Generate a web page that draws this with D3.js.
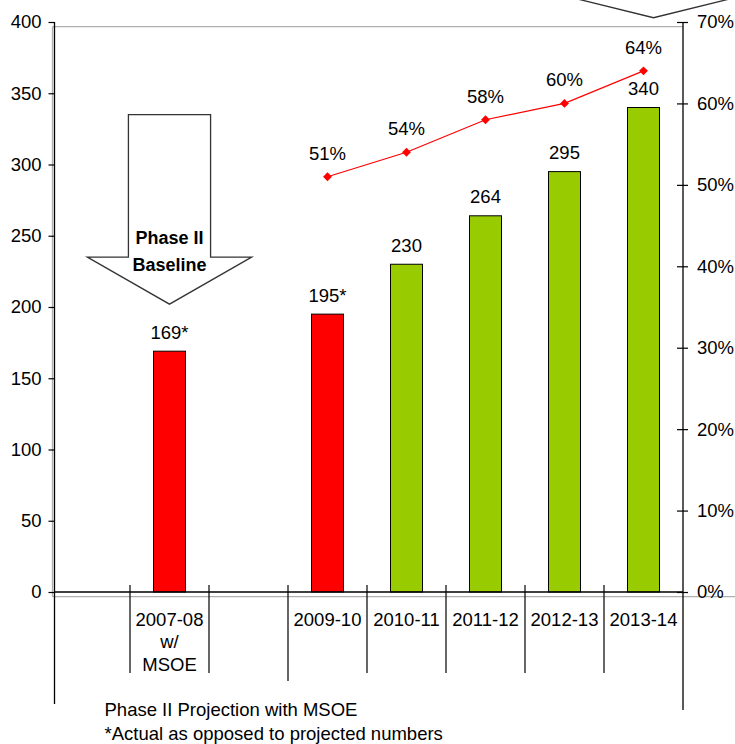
<!DOCTYPE html>
<html>
<head>
<meta charset="utf-8">
<script src="https://cdn.jsdelivr.net/npm/d3@7"></script>
<style>
  html, body { margin: 0; padding: 0; background: #fff; }
  svg { display: block; font-family: "Liberation Sans", Arial, sans-serif; }
</style>
</head>
<body>
<svg id="chart" width="735" height="744"></svg>
<script>
// ---- data ----
const categoryKeys = ["gap1", "2007-08", "gap2", "2009-10", "2010-11", "2011-12", "2012-13", "2013-14"];
const categoryLabels = [[], ["2007-08", "w/", "MSOE"], [], ["2009-10"], ["2010-11"], ["2011-12"], ["2012-13"], ["2013-14"]];
const studentValues = [null, 169, null, 195, 230, 264, 295, 340];
const barLabels = ["", "169*", "", "195*", "230", "264", "295", "340"];
const isActual = [false, true, false, true, false, false, false, false];
const percentValues = [null, null, null, 0.51, 0.54, 0.58, 0.60, 0.64];
const percentLabels = ["", "", "", "51%", "54%", "58%", "60%", "64%"];
const leftTicks = [0, 50, 100, 150, 200, 250, 300, 350, 400];
const rightTicks = [0, 0.1, 0.2, 0.3, 0.4, 0.5, 0.6, 0.7];
const arrowText = ["Phase II", "Baseline"];
const footnotes = ["Phase II Projection with MSOE", "*Actual as opposed to projected numbers"];

// ---- scales ----
const svg = d3.select("#chart");
const x = d3.scaleBand().domain(categoryKeys).range([51, 683]).padding(0);
const yL = d3.scaleLinear().domain([0, 400]).range([592, 22]);
const yR = d3.scaleLinear().domain([0, 0.7]).range([592, 22]);
const bw = x.bandwidth();
const cx = k => x(k) + bw / 2;
const FS = 18.5;

// plot-area gray border
const g0 = svg.append("g").attr("stroke", "#b0b0b0").attr("stroke-width", 1.3).attr("fill", "none");
g0.append("line").attr("x1", 52.5).attr("x2", 52.5).attr("y1", 26.7).attr("y2", 596.7);
g0.append("line").attr("x1", 52.5).attr("x2", 683).attr("y1", 26.7).attr("y2", 26.7);
g0.append("line").attr("x1", 52.5).attr("x2", 735).attr("y1", 596.7).attr("y2", 596.7);

// baseline arrow (annotation, positioned through scales)
const ak = "2007-08";
const ac = cx(ak);
const arrowPts = [
  [ac - bw * 0.52, yL(335)], [ac + bw * 0.52, yL(335)], [ac + bw * 0.52, yL(235)],
  [ac + bw * 1.04, yL(235)], [ac, yL(202)], [ac - bw * 1.04, yL(235)], [ac - bw * 0.52, yL(235)]
];
svg.append("polygon")
  .attr("points", arrowPts.map(p => p.join(",")).join(" "))
  .attr("fill", "#fff").attr("stroke", "#333").attr("stroke-width", 1.3);
svg.append("g").selectAll("text").data(arrowText).join("text")
  .attr("x", ac).attr("y", (d, i) => 243.5 + i * 27.5)
  .attr("text-anchor", "middle").attr("font-size", 18).attr("font-weight", "bold")
  .attr("fill", "#000").text(d => d);

// partially visible arrow at top right
const tk = "2013-14";
const tipX = cx(tk) + 10, tipY = yL(403);
svg.append("polyline")
  .attr("points", [[tipX - 76, -1], [tipX, tipY], [tipX + 76, -1]].map(p => p.join(",")).join(" "))
  .attr("fill", "none").attr("stroke", "#333").attr("stroke-width", 1.3);

// bars
const idx = d3.range(categoryKeys.length).filter(i => studentValues[i] != null);
svg.append("g").selectAll("rect").data(idx).join("rect")
  .attr("x", i => cx(categoryKeys[i]) - 16)
  .attr("width", 32)
  .attr("y", i => yL(studentValues[i]))
  .attr("height", i => yL(0) - yL(studentValues[i]))
  .attr("fill", i => isActual[i] ? "#ff0000" : "#99cc00")
  .attr("stroke", "#000").attr("stroke-width", 1);

svg.append("g").selectAll("text").data(idx).join("text")
  .attr("x", i => cx(categoryKeys[i]))
  .attr("y", i => yL(studentValues[i]) - 12.5)
  .attr("text-anchor", "middle").attr("font-size", FS).attr("fill", "#000")
  .text(i => barLabels[i]);

// percentage line
const pidx = d3.range(categoryKeys.length).filter(i => percentValues[i] != null);
const line = d3.line().x(i => cx(categoryKeys[i])).y(i => yR(percentValues[i]));
svg.append("path").datum(pidx).attr("d", line)
  .attr("fill", "none").attr("stroke", "#ff0000").attr("stroke-width", 1.2);
svg.append("g").selectAll("path").data(pidx).join("path")
  .attr("d", d3.symbol().type(d3.symbolDiamond2).size(50))
  .attr("transform", i => `translate(${cx(categoryKeys[i])},${yR(percentValues[i])})`)
  .attr("fill", "#ff0000");
svg.append("g").selectAll("text").data(pidx).join("text")
  .attr("x", i => cx(categoryKeys[i]))
  .attr("y", i => yR(percentValues[i]) - 17)
  .attr("text-anchor", "middle").attr("font-size", FS).attr("fill", "#000")
  .text(i => percentLabels[i]);

// left axis
const left = svg.append("g").attr("transform", "translate(54.5,0)")
  .call(d3.axisLeft(yL).tickValues(leftTicks).tickSize(6).tickPadding(7).tickFormat(d3.format("d")));
left.select(".domain").remove();
left.selectAll(".tick line").attr("stroke", "#000").attr("stroke-width", 1.2);
left.selectAll(".tick text").attr("font-size", FS).attr("font-family", "Liberation Sans, Arial, sans-serif").attr("fill", "#000");
svg.append("line").attr("x1", 54.5).attr("x2", 54.5).attr("y1", yL(400)).attr("y2", 704)
  .attr("stroke", "#000").attr("stroke-width", 1.3);

// right axis
const right = svg.append("g").attr("transform", "translate(683,0)")
  .call(d3.axisRight(yR).tickValues(rightTicks).tickSize(5).tickPadding(9).tickFormat(d3.format(".0%")));
right.select(".domain").remove();
right.selectAll(".tick line").attr("x1", -6).attr("stroke", "#000").attr("stroke-width", 1.2);
right.selectAll(".tick text").attr("font-size", FS).attr("font-family", "Liberation Sans, Arial, sans-serif").attr("fill", "#000");
svg.append("line").attr("x1", 683).attr("x2", 683).attr("y1", yR(0.7)).attr("y2", 710)
  .attr("stroke", "#000").attr("stroke-width", 1.3);

// x axis line
svg.append("line").attr("x1", 54.5).attr("x2", 683).attr("y1", yL(0)).attr("y2", yL(0))
  .attr("stroke", "#000").attr("stroke-width", 1.3);

// category separators
const sepKeys = categoryKeys.slice(1);
svg.append("g").selectAll("line").data(sepKeys).join("line")
  .attr("x1", k => x(k)).attr("x2", k => x(k))
  .attr("y1", yL(0) - 7)
  .attr("y2", k => k === "2009-10" ? 681 : 673)
  .attr("stroke", "#000").attr("stroke-width", 1.2);

// category labels
categoryKeys.forEach((k, i) => {
  svg.append("g").selectAll("text").data(categoryLabels[i]).join("text")
    .attr("x", cx(k)).attr("y", (d, j) => 625.5 + j * 22.5)
    .attr("text-anchor", "middle").attr("font-size", FS).attr("fill", "#000")
    .text(d => d);
});

// footnotes
svg.append("g").selectAll("text").data(footnotes).join("text")
  .attr("x", 104.5).attr("y", (d, i) => 716 + i * 24)
  .attr("font-size", FS).attr("fill", "#000").text(d => d);
</script>
</body>
</html>
